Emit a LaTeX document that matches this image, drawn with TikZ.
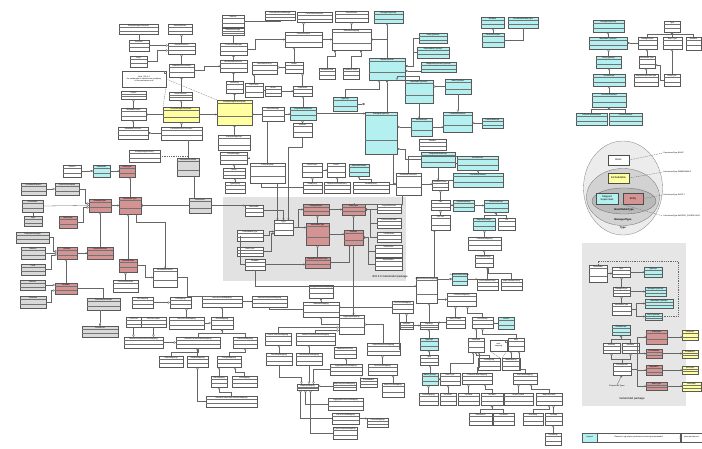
\documentclass[tikz,border=0pt]{standalone}
\usepackage{fontspec}
\setmainfont{Liberation Sans}
\usetikzlibrary{arrows.meta,calc}
\definecolor{cy}{HTML}{B4F0F0}
\definecolor{rd}{HTML}{D49494}
\definecolor{gy}{HTML}{D9D9D9}
\definecolor{yl}{HTML}{FFFFA0}
\definecolor{pn}{HTML}{E2E2E2}
\tikzset{
 clsbox/.style={draw=black!65, line width=0.3pt, inner sep=0pt, outer sep=0pt},
 clsline/.style={draw=black!55, line width=0.2pt},
 clslabel/.style={inner sep=0pt, font=\fontsize{1.9}{2.1}\selectfont},
 conn/.style={draw=black!60, line width=0.3pt},
 inh/.style={conn, -{Triangle[open,length=2.2pt,width=2.6pt]}},
 comp/.style={conn, {Diamond[length=3pt,width=2pt]}-},
 asc/.style={conn, -{Straight Barb[length=1.3pt,width=2pt]}},
 dep/.style={conn, dash pattern=on 1pt off 0.8pt},
 ebox/.style={draw=black!70, line width=0.3pt, inner sep=0pt, align=center, font=\fontsize{2.6}{2.9}\selectfont},
 elabel/.style={inner sep=0.3pt, font=\fontsize{1.9}{2.2}\selectfont},
 etext/.style={inner sep=0pt, font=\bfseries\fontsize{2.6}{2.9}\selectfont},
 panellabel/.style={inner sep=0pt, font=\fontsize{2.8}{3}\selectfont}
}
\newcommand\cls[7]{%
 \node[clsbox, fill=#6, minimum width={(#4-#2)*1pt}, minimum height={(#5-#3)*1pt}] (#1) at ({(#2+#4)/2},{(#3+#5)/2}) {};
 \draw[clsline] ([yshift=-3.4pt]#1.north west) -- ([yshift=-3.4pt]#1.north east);
 \draw[clsline] ($(#1.north west)!0.66!(#1.south west)$) -- ($(#1.north east)!0.66!(#1.south east)$);
 \node[clslabel] at ([yshift=-1.7pt]#1.north) {#7};}
\newcommand\notebox[6]{%
 \node[clsbox, fill=#6, minimum width={(#4-#2)*1pt}, minimum height={(#5-#3)*1pt}] (#1) at ({(#2+#4)/2},{(#3+#5)/2}) {};}
\begin{document}
\begin{tikzpicture}[x=1pt,y=-1pt]
\useasboundingbox (0,0) rectangle (702,448);
\fill[white] (0,0) rectangle (702,448);
% panels
\fill[pn] (223,197) rectangle (406,281);
\node[panellabel] at (390,277) {JPA 2.0 metamodel package};
\fill[pn!85] (582,243) rectangle (686,406);
\node[panellabel] at (632,399) {metamodel package};
%% ---------- top-left
\cls{a1}{119}{24}{158}{34}{white}{EntityManagerSetupImpl}
\cls{a2}{168}{24}{192}{34}{white}{SessionBroker}
\cls{a3}{129}{40}{149}{51}{white}{Accessor}
\cls{a4}{130}{56}{147}{67}{white}{Login}
\cls{a5}{168}{43}{195}{54}{white}{AbstractSession}
\cls{a6}{169}{64}{194}{77}{white}{DatabaseSessionImpl}
\notebox{nt1}{122}{71}{166}{87}{white}
\node[clslabel, align=center] at (nt1) {Note: JPA 2.0\\the metamodel is initialized on predeploy\\of the persistence unit};
\draw[clsline] ([xshift=-2pt]nt1.north east) -- ([xshift=-2pt,yshift=-2pt]nt1.north east) -- ([yshift=-2pt]nt1.north east);
\cls{a7}{121}{91}{146}{99}{white}{Project}
\cls{a8}{169}{92}{192}{100}{white}{ServerSession}
\cls{a9}{121}{108}{146}{120}{white}{MetadataProject}
\cls{a10}{163}{107}{199}{122}{yl}{EntityManagerSetupImpl}
\cls{a11}{118}{127}{148}{139}{white}{MetadataProcessor}
\cls{a12}{161}{127}{202}{140}{white}{PersistenceUnitProcessor}
\cls{y1}{217}{100}{252}{125}{yl}{EntityManagerFactoryImpl}
\cls{a13}{218}{135}{250}{150}{white}{EntityManagerImpl}
\cls{a14}{222}{15}{244}{27}{white}{Platform}
\cls{a15}{222}{28}{244}{35}{white}{DatasourceLogin}
\cls{a16}{220}{43}{247}{55}{white}{ConversionManager}
\cls{a17}{220}{60}{247}{72}{white}{IdentityMapAccessor}
\cls{a18}{226}{81}{243}{93}{white}{CacheKey}
%% ---------- top-middle
\cls{b1}{265}{11}{295}{20}{white}{DescriptorEventManager}
\cls{b2}{297}{12}{332}{22}{white}{CoreClassDescriptor}
\cls{b3}{335}{11}{368}{22}{white}{ObjectBuilder}
\cls{c1}{374}{11}{403}{23}{cy}{ManagedTypeImpl}
\cls{b4}{285}{32}{322}{47}{white}{ClassDescriptor}
\cls{b5}{332}{29}{371}{50}{white}{DatabaseMapping}
\cls{b6}{252}{62}{277}{74}{white}{InheritancePolicy}
\cls{b7}{285}{62}{303}{73}{white}{Helper}
\cls{b8}{319}{68}{335}{79}{white}{DatabaseField}
\cls{b9}{343}{68}{359}{79}{white}{DatabaseTable}
\cls{c2}{369}{58}{405}{80}{cy}{MetamodelImpl}
\cls{c3}{419}{33}{447}{43}{cy}{EntityTypeImpl}
\cls{c4}{417}{47}{449}{58}{cy}{EmbeddableTypeImpl}
\cls{c5}{421}{62}{456}{72}{cy}{MappedSuperclassTypeImpl}
\cls{c6}{405}{80}{433}{103}{cy}{IdentifiableTypeImpl}
\cls{c7}{445}{79}{471}{94}{cy}{BasicTypeImpl}
\cls{b10}{245}{83}{263}{97}{white}{CMPPolicy}
\cls{b11}{265}{86}{281}{96}{white}{Vector}
\cls{b12}{293}{86}{312}{96}{white}{Expression}
\cls{c8}{333}{97}{357}{111}{cy}{TypeImpl}
\cls{b13}{262}{107}{284}{121}{white}{QueryManager}
\cls{c9}{290}{107}{316}{120}{cy}{SingularAttributeImpl}
\cls{b14}{293}{123}{312}{137}{white}{Attribute}
\cls{c10}{365}{112}{397}{154}{cy}{ManagedTypeImpl}
\cls{c11}{411}{118}{432}{136}{cy}{AttributeImpl}
\cls{c12}{443}{112}{472}{132}{cy}{PluralAttributeImpl}
\cls{b15}{419}{139}{446}{150}{white}{Member}
\cls{c13}{482}{118}{503}{128}{cy}{ListAttributeImpl}
\cls{c14}{481}{17}{504}{28}{cy}{Bindable}
\cls{c15}{508}{17}{538}{28}{cy}{PersistentAttributeType}
\cls{c16}{482}{33}{504}{47}{cy}{PersistenceType}
%% ---------- top-right cluster
\cls{d1}{593}{20}{624}{32}{cy}{ManagedTypeImpl}
\cls{d2}{589}{37}{627}{49}{cy}{IdentifiableTypeImpl}
\cls{d3}{596}{56}{621}{68}{cy}{EntityTypeImpl}
\cls{d4}{593}{74}{625}{86}{cy}{AttributeImpl}
\cls{d5}{592}{93}{626}{107}{cy}{PluralAttributeImpl}
\cls{d6}{576}{113}{607}{125}{cy}{CollectionAttributeImpl}
\cls{d7}{609}{113}{642}{125}{cy}{SetAttributeImpl}
\cls{e1}{664}{21}{680}{32}{white}{Type}
\cls{e2}{638}{37}{657}{49}{white}{ManagedType}
\cls{e3}{663}{37}{682}{49}{white}{BasicType}
\cls{e4}{686}{37}{701}{50}{white}{Bindable}
\cls{e5}{639}{56}{655}{68}{white}{IdentifiableType}
\cls{e6}{634}{74}{658}{86}{white}{MappedSuperclassType}
\cls{e7}{664}{74}{680}{86}{white}{EntityType}
%% ---------- left middle
\cls{f1}{63}{165}{81}{177}{white}{Session}
\cls{f2}{93}{165}{110}{177}{cy}{Metamodel}
\cls{r1}{119}{165}{135}{177}{rd}{EntityType}
\cls{f3}{129}{150}{160}{162}{white}{EntityManagerFactory}
\cls{g1}{177}{158}{199}{176}{gy}{PersistenceUnitInfo}
\cls{f4}{220}{152}{247}{164}{white}{EntityManager}
\cls{f5}{223}{168}{245}{178}{white}{Query}
\cls{f6}{225}{182}{245}{193}{white}{TypedQuery}
\cls{g2}{21}{183}{46}{195}{gy}{AnnotatedElement}
\cls{g3}{55}{183}{79}{195}{gy}{GenericDeclaration}
\cls{r2}{89}{199}{111}{212}{rd}{ManagedType}
\cls{r3}{119}{197}{141}{214}{rd}{IdentifiableType}
\cls{g4}{189}{198}{211}{213}{gy}{Persistence}
\cls{g5}{22}{200}{43}{212}{gy}{Serializable}
\cls{g6}{24}{216}{42}{226}{gy}{Type}
\cls{r4}{59}{216}{77}{228}{rd}{BasicType}
\cls{g7}{16}{232}{49}{243}{gy}{ParameterizedType}
\cls{g8}{21}{247}{45}{259}{gy}{Member}
\cls{r5}{57}{247}{77}{259}{rd}{Attribute}
\cls{r6}{87}{247}{113}{259}{rd}{SingularAttribute}
\cls{g9}{21}{264}{45}{275}{gy}{Field}
\cls{r7}{119}{259}{137}{272}{rd}{PluralAttribute}
\cls{f7}{153}{268}{177}{287}{white}{MetadataAccessor}
\cls{f8}{113}{280}{138}{292}{white}{CollectionAttribute}
\cls{g10}{20}{280}{45}{290}{gy}{Method}
\cls{r8}{55}{283}{77}{294}{rd}{Bindable}
\cls{g11}{20}{296}{46}{308}{gy}{Collection}
%% ---------- lower-left
\cls{g12}{87}{298}{120}{310}{gy}{PersistenceProvider}
\cls{g13}{82}{326}{118}{337}{gy}{ProviderUtil}
\cls{h1}{132}{297}{153}{308}{white}{XMLMapping}
\cls{h2}{170}{297}{191}{308}{white}{OXMapping}
\cls{h3}{202}{296}{242}{307}{white}{AbstractDirectMapping}
\cls{h4}{252}{296}{287}{307}{white}{AbstractCompositeMapping}
\cls{h5}{126}{317}{141}{327}{white}{XMLField}
\cls{h6}{141}{317}{166}{327}{white}{XMLDescriptor}
\cls{h7}{124}{337}{163}{348}{white}{AbstractCompositeDirectMapping}
\cls{h8}{169}{317}{204}{329}{white}{DirectToFieldMapping}
\cls{h9}{211}{317}{233}{329}{white}{DirectMapping}
\cls{h10}{176}{337}{220}{348}{white}{AbstractTransformationMapping}
\cls{h11}{233}{337}{257}{348}{white}{TransformMapping}
\cls{h12}{159}{356}{183}{367}{white}{ObjectMapping}
\cls{h13}{187}{356}{208}{367}{white}{VariableMapping}
\cls{h14}{217}{356}{241}{367}{white}{ForeignMapping}
\cls{h15}{211}{376}{227}{387}{white}{XMLMapping}
\cls{h16}{232}{376}{257}{387}{white}{EISMapping}
\cls{h17}{206}{396}{257}{407}{white}{AbstractCompositeCollectionMapping}
%% ---------- JPA panel
\cls{p1}{245}{205}{263}{216}{white}{Metamodel}
\cls{p2}{274}{220}{293}{235}{white}{Type}
\cls{pr1}{303}{204}{329}{215}{rd}{ManagedType}
\cls{pr2}{342}{204}{365}{215}{rd}{EntityType}
\cls{p3}{377}{204}{401}{213}{white}{SingularAttribute}
\cls{p4}{377}{218}{401}{228}{white}{CollectionAttribute}
\cls{p5}{377}{232}{401}{242}{white}{ListAttribute}
\cls{pr3}{306}{223}{329}{245}{rd}{IdentifiableType}
\cls{pr4}{344}{230}{363}{245}{rd}{Attribute}
\cls{p6}{237}{230}{263}{241}{white}{EmbeddableType}
\cls{p7}{237}{247}{263}{256}{white}{BasicType}
\cls{p8}{245}{259}{265}{270}{white}{Bindable}
\cls{pr5}{305}{257}{330}{268}{rd}{MappedSuperclassType}
\cls{p9}{375}{245}{402}{257}{white}{SetAttribute}
\cls{p10}{375}{258}{402}{270}{white}{MapAttribute}
%% ---------- above panel
\cls{k1}{302}{163}{322}{177}{white}{FetchGroup}
\cls{k2}{327}{163}{345}{177}{white}{Cursor}
\cls{kc1}{349}{164}{369}{176}{cy}{MapAttributeImpl}
\cls{k3}{303}{182}{322}{193}{white}{ReadQuery}
\cls{k4}{324}{182}{350}{193}{white}{ObjectLevelReadQuery}
\cls{k5}{353}{182}{389}{193}{white}{ReadAllQuery}
\cls{k6}{396}{173}{421}{195}{white}{RelationalDescriptor}
\cls{k7}{432}{180}{448}{190}{white}{DatabaseQuery}
\cls{k8}{431}{200}{450}{210}{white}{Call}
\cls{k9}{431}{215}{450}{230}{white}{SQLCall}
\cls{kc2}{453}{200}{474}{211}{cy}{SetAttributeImpl}
\cls{kc3}{421}{152}{455}{167}{cy}{SingularAttributeImpl}
\cls{k13}{250}{163}{285}{183}{white}{EJBQueryImpl}
\cls{k14}{309}{285}{333}{298}{white}{ForeignReferenceMapping}
\cls{k15}{416}{277}{437}{303}{white}{ObjectReferenceMapping}
\cls{kc4}{452}{273}{467}{285}{cy}{CollectionAttributeImpl}
%% ---------- right middle
\cls{m1}{457}{156}{498}{170}{cy}{AttributeImpl}
\cls{m2}{453}{173}{503}{187}{cy}{PluralAttributeImpl}
\cls{mc3}{484}{200}{508}{212}{cy}{ListAttributeImpl}
\cls{mc4}{473}{218}{495}{230}{cy}{MapAttributeImpl}
\cls{m5}{498}{218}{515}{230}{white}{List}
\cls{m6}{468}{237}{501}{250}{white}{CollectionMapping}
\cls{m7}{475}{255}{493}{267}{white}{ContainerPolicy}
\cls{m8}{477}{279}{498}{290}{white}{ListContainerPolicy}
\cls{m9}{501}{279}{522}{290}{white}{MapContainerPolicy}
%% ---------- lower middle
\cls{n1b}{303}{302}{339}{317}{white}{DatabaseMapping}
\cls{n2}{392}{301}{413}{313}{white}{OneToOneMapping}
\cls{n4}{447}{293}{476}{306}{white}{CollectionMapping}
\cls{n5}{339}{315}{364}{334}{white}{AggregateMapping}
\cls{n6}{265}{333}{291}{345}{white}{DirectCollectionMapping}
\cls{n7}{296}{333}{335}{345}{white}{AbstractTransformationMapping}
\cls{n8}{367}{343}{400}{355}{white}{ObjectReferenceMapping}
\cls{n9}{334}{347}{356}{358}{white}{VariableOneToOne}
\cls{n10}{266}{353}{292}{365}{white}{DirectMapMapping}
\cls{n11}{296}{353}{322}{365}{white}{TransformationMapping}
\cls{n12}{330}{364}{362}{375}{white}{AggregateObjectMapping}
\cls{n13}{368}{364}{397}{375}{white}{OneToOneMapping}
\cls{n14}{360}{378}{377}{387}{white}{EmbeddedId}
\cls{n15}{297}{384}{318}{390}{white}{MapKeyMapping}
\cls{n16}{333}{382}{356}{390}{white}{MapComponentMapping}
\cls{n17}{382}{383}{404}{397}{white}{ManyToOneMapping}
\cls{n18}{328}{398}{363}{410}{white}{AggregateCollectionMapping}
\cls{n19}{332}{413}{359}{424}{white}{DirectToFieldMapping}
\cls{n20}{367}{418}{388}{427}{white}{ConvertMapping}
\cls{n21}{333}{427}{357}{439}{white}{TypeConversionMapping}
\cls{o1}{400}{322}{413}{329}{white}{Attribute}
\cls{o2}{420}{322}{438}{329}{white}{Mapping}
\cls{oc3}{420}{338}{438}{350}{cy}{TypeImpl}
\cls{o4}{420}{355}{438}{365}{white}{Type}
\cls{oc5}{422}{373}{438}{385}{cy}{BasicTypeImpl}
\cls{o6}{440}{373}{460}{385}{white}{BasicType}
\cls{o7}{419}{393}{438}{405}{white}{DirectMapping}
\cls{o8}{440}{393}{456}{405}{white}{Converter}
%% ---------- right lower
\cls{q1}{446}{317}{465}{328}{white}{ManyToMany}
\cls{q2}{472}{317}{493}{328}{white}{OneToMany}
\cls{qc3}{498}{317}{514}{329}{cy}{ListAttr}
\cls{q4}{468}{338}{484}{352}{white}{Collection}
\notebox{nt2}{490}{340}{507}{351}{white}
\node[clslabel, align=center] at (nt2) {note:\\mapping};
\draw[clsline] ([xshift=-2pt]nt2.north east) -- ([xshift=-2pt,yshift=-2pt]nt2.north east) -- ([yshift=-2pt]nt2.north east);
\cls{q6}{508}{338}{524}{351}{white}{Map}
\cls{q7}{478}{358}{500}{370}{white}{ListMapping}
\cls{q8}{502}{358}{520}{370}{white}{MapMapping}
\cls{q10}{462}{373}{492}{384}{white}{CollectionTableMapping}
\cls{q11}{513}{373}{537}{384}{white}{MapTableMapping}
\cls{q13}{458}{393}{479}{405}{white}{ListTable}
\cls{q14}{481}{393}{503}{405}{white}{SetTable}
\cls{q15}{504}{393}{533}{405}{white}{MapKeyTable}
\cls{q16}{536}{393}{562}{405}{white}{MapValueTable}
\cls{q17}{469}{413}{492}{425}{white}{OrderedList}
\cls{q18}{493}{413}{514}{425}{white}{SortedSet}
\cls{q19}{523}{413}{543}{425}{white}{HashMap}
\cls{q20}{545}{413}{562}{425}{white}{TreeMap}
\cls{q21}{545}{433}{561}{445}{white}{SortedMap}
%% ---------- metamodel package panel
\cls{s1}{589}{265}{607}{282}{white}{Metamodel}
\cls{s2}{612}{267}{630}{277}{white}{Type}
\cls{sc1}{644}{267}{662}{277}{cy}{TypeImpl}
\cls{s3}{613}{287}{630}{296}{white}{ManagedType}
\cls{sc2}{645}{287}{666}{296}{cy}{ManagedTypeImpl}
\cls{s4}{612}{303}{631}{315}{white}{IdentifiableType}
\cls{sc3}{645}{299}{673}{308}{cy}{IdentifiableTypeImpl}
\cls{sc4}{645}{313}{662}{320}{cy}{BasicTypeImpl}
\cls{sc5}{612}{325}{630}{335}{cy}{AttributeImpl}
\cls{s5}{603}{343}{620}{353}{white}{Attribute}
\cls{s6}{622}{343}{639}{353}{white}{Bindable}
\cls{sr1}{646}{330}{667}{344}{rd}{EntityType}
\cls{sr2}{646}{349}{662}{358}{rd}{Embeddable}
\cls{sr3}{646}{365}{662}{375}{rd}{MappedSC}
\cls{sr4}{646}{382}{667}{390}{rd}{BasicType}
\cls{s7}{613}{363}{631}{375}{white}{PersistentAttr}
\cls{sy1}{682}{330}{698}{340}{yl}{EntityImpl}
\cls{sy2}{682}{350}{698}{358}{yl}{EmbedImpl}
\cls{sy3}{682}{366}{698}{374}{yl}{MSCImpl}
\cls{sy4}{682}{382}{701}{391}{yl}{BasicImpl}
\node[clslabel] (stxt) at (617,386) {EclipseLink Types};
%% ---------- legend
\node[clsbox, fill=cy, minimum width=15pt, minimum height=9pt] (lg1) at (589.5,437.5) {};
\node[clslabel] at (lg1) {Legend};
\node[clsbox, fill=white, minimum width=83pt, minimum height=9pt] (lg2) at (638.5,437.5) {};
\node[clslabel] at (lg2) {Classes in org.eclipse.persistence.internal.jpa.metamodel};
\node[clsbox, fill=white, minimum width=21pt, minimum height=9pt] (lg3) at (691.5,437.5) {};
\node[clslabel] at (lg3) {javax.persistence};
%% ---------- persistence type ellipse
\draw[draw=black!50, fill=gray!15, line width=0.3pt] (623,188) ellipse [x radius=39.5pt, y radius=47pt];
\draw[draw=black!55, fill=gray!35, line width=0.3pt] (623,197) ellipse [x radius=36.5pt, y radius=28.5pt];
\draw[draw=black!60, fill=gray!55, line width=0.3pt] (624,201) ellipse [x radius=32pt, y radius=13pt];
\node[ebox, fill=white, minimum width=21pt, minimum height=10pt] (eb) at (618.5,160) {Basic};
\node[ebox, fill=yl, minimum width=21pt, minimum height=10pt] (ee) at (618.5,178) {Embeddable};
\node[ebox, fill=cy, minimum width=22pt, minimum height=11pt] (em) at (607,198.5) {Mapped\\Superclass};
\node[ebox, fill=rd, minimum width=20pt, minimum height=11pt] (en) at (633,198.5) {Entity};
\node[etext] at (624,209.5) {IdentifiableType};
\node[etext] at (623,219.5) {ManagedType};
\node[etext] at (623,228) {Type};
\node[elabel, anchor=west] (lb) at (663,153) {PersistenceType.BASIC};
\node[elabel, anchor=west] (le) at (663,172) {PersistenceType.EMBEDDABLE};
\node[elabel, anchor=west] (ln) at (663,195) {PersistenceType.ENTITY};
\node[elabel, anchor=west] (lm) at (663,216) {PersistenceType.MAPPED\_SUPERCLASS};
\draw[dep] (eb.east) -- (lb.west);
\draw[dep] (ee.east) -- (le.west);
\draw[dep] (en.east) -- (ln.west);
\draw[dep] ([xshift=3pt]em.south east) -- (lm.west);
%% ================= connectors
% top-left
\draw[conn] (a3.north) -- (a3.north |- a1.south);
\draw[inh] (a3.east) -- (a3.east -| a5.west);
\draw[inh] (a4.east) -- ++(10,0) |- ([yshift=-2pt]a5.west);
\draw[inh] (a6.north) -- (a6.north |- a5.south);
\draw[inh] (a5.north) -- (a5.north |- a2.south);
\draw[comp] (a6.south) -- (a6.south |- a8.north);
\draw[inh] (a9.north) -- (a9.north |- a7.south);
\draw[inh] (a11.north) -- (a11.north |- a9.south);
\draw[inh] (a12.north) -- (a12.north |- a10.south);
\draw[comp] (a11.east) -- (a11.east -| a12.west);
\draw[asc] (a10.west) -- (a10.west -| a9.east);
\draw[inh] (a10.north) -- (a10.north |- a8.south);
\draw[dep] (nt1.south east) -- (a10.north west);
\draw[dep] (nt1.east) -- (y1.north west);
\draw[asc] (a6.east) -- ++(10,0) |- (a17.west);
\draw[asc] (a10.east) -- (a10.east -| y1.west);
\draw[comp] (a18.south) -- (a18.south |- y1.north);
\draw[comp] (a17.south) -- (a17.south |- a18.north);
\draw[comp] (a16.south) -- (a16.south |- a17.north);
\draw[conn] (a15.south) -- (a15.south |- a16.north);
\draw[comp] (y1.south) -- (y1.south |- a13.north);
\draw[inh] (f5.north) -- (f5.north |- f4.south);
\draw[inh] (f6.north) -- (f6.north |- f5.south);
\draw[conn] (a14.east) -| (b1.south);
\draw[asc] (a16.east) -- ++(8,0) |- (b4.west);
% top-middle
\draw[inh] (b4.north) -- (b4.north |- b2.south);
\draw[inh] (b5.north) -- (b5.north |- b3.south);
\draw[asc] (b4.east) -- (b4.east -| b5.west);
\draw[inh] (b7.west) -- (b7.west -| b6.east);
\draw[inh] (b7.north) -- (b7.north |- b4.south);
\draw[comp] ([xshift=3pt]b5.south west) -- ++(0,6) -| (b8.north);
\draw[comp] ([xshift=-10pt]b5.south east) -- ++(0,6) -| (b9.north);
\draw[conn] (b10.east) -- (b10.east -| b11.west);
\draw[asc] (b11.east) -- (b11.east -| b12.west);
\draw[inh] (b12.north) -- (b12.north |- b7.south);
\draw[inh] (b10.north) -- (b10.north |- b6.south);
\draw[inh] (c9.north) -- (c9.north |- b12.south);
\draw[inh] (b14.north) -- (b14.north |- c9.south);
\draw[asc] (b13.east) -- (b13.east -| c9.west);
\draw[asc] (b13.west) -- (b13.west -| y1.east);
\draw[asc] (c9.east) -- (c9.east -| c10.west);
\draw[comp] (c10.west |- c8.east) -- (c8.east);
\draw[inh] (c8.north) -- ++(0,-8) -| ([xshift=-8pt]c2.south);
\draw[comp] (c2.south) -- (c2.south |- c10.north);
\draw[asc] (c2.north) |- (b5.east);
\draw[inh] (c2.north) -- (c2.north |- c1.south);
\draw[comp] ([yshift=3pt]c2.east) -- ++(8,0) |- (c3.west);
\draw[comp] ([yshift=3pt]c2.east) -- ++(8,0) |- (c4.west);
\draw[comp] ([yshift=-2pt]c2.east) -- ([yshift=-2pt]c2.east -| c5.west);
\draw[inh] (c6.north) -- ++(0,-4) -| ([xshift=10pt]c2.south);
\draw[inh] (c7.west) -- (c7.west -| c6.east);
\draw[asc] (c6.south) -- (c6.south |- c11.north);
\draw[comp] ([yshift=6pt]c10.east) -- ([yshift=6pt]c10.east -| c11.west);
\draw[asc] (c11.east) -- (c11.east -| c12.west);
\draw[inh] (c13.west) -- (c13.west -| c12.east);
\draw[inh] (c7.south) -- (c7.south |- c12.north);
\draw[inh] (c16.north) -- (c16.north |- c14.south);
\draw[conn] (c15.south) |- (c16.east);
\draw[comp] ([yshift=-16pt]c10.east) -- ++(8,0) |- (kc3.west);
\draw[asc] ([xshift=12pt]c10.south) |- (k6.west);
% top-right cluster
\draw[inh] (d2.north) -- (d2.north |- d1.south);
\draw[inh] (d3.north) -- (d3.north |- d2.south);
\draw[inh] (d4.north) -- (d4.north |- d3.south);
\draw[inh] (d5.north) -- (d5.north |- d4.south);
\draw[inh] (d6.north) -- ++(0,-4) -| (d5.south);
\draw[inh] (d7.north) -- ++(0,-4) -| (d5.south);
\draw[comp] (d2.east) -- (d2.east -| e2.west);
\draw[inh] (e2.north) -- ++(0,-3) -| (e1.south);
\draw[inh] (e3.north) -- ++(0,-3) -| (e1.south);
\draw[inh] (e4.north) -- ++(0,-3) -| (e1.south);
\draw[inh] (e5.north) -- (e5.north |- e2.south);
\draw[inh] (e6.north) -- (e6.north |- e5.south);
\draw[inh] (e7.north) -- (e7.north |- e3.south);
\draw[inh] (e7.west) -- ++(-4,0) |- ([yshift=-3pt]e5.east);
% left middle
\draw[comp] (f2.west) -- (f2.west -| f1.east);
\draw[asc] (f2.east) -- (f2.east -| r1.west);
\draw[inh] (r3.north) -- (r3.north |- r1.south);
\draw[inh] (g2.east) -- (g2.east -| g3.west);
\draw[inh] (g3.east) -- ++(6,0) |- ([yshift=2pt]r2.west);
\draw[inh] (g5.east) -- ($(r2.west)+(-4,0)$) -- (r2.west);
\draw[inh] (r4.east) -- ++(6,0) |- ([yshift=-2pt]r2.west);
\draw[conn] (g6.north) -- (g6.north |- g5.south);
\draw[asc] (r2.east) -- (r2.east -| r3.west);
\draw[comp] (r3.east) -- (r3.east -| g4.west);
\draw[conn] ([xshift=6pt]g1.south) -- ([xshift=6pt]g1.south |- g4.north);
\draw[dep] (f3.east) -| (g1.north);
\draw[conn] (g1.north) -- (g1.north |- a12.south);
\draw[inh] (g7.east) -- ++(4,0) |- ([yshift=2pt]r5.west);
\draw[inh] (g8.east) -- (g8.east -| r5.west);
\draw[inh] (g9.east) -- ++(6,0) |- ([yshift=-2pt]r5.west);
\draw[asc] (r5.east) -- (r5.east -| r6.west);
\draw[inh] (r6.north) -- (r6.north |- r2.south);
\draw[inh] (r7.north) -- (r7.north |- r3.south);
\draw[asc] (r7.east) -- ++(8,0) |- (f7.west);
\draw[inh] (f8.north) -- (f8.north |- r7.south);
\draw[inh] (g10.east) -- (g10.east -| r8.west);
\draw[inh] (g11.east) -- ++(5,0) |- ([yshift=-2pt]r8.west);
\draw[inh] (r8.north) -- (r8.north |- r5.south);
\draw[asc] ([xshift=6pt]r3.south) -- ++(0,8) -| (f7.north);
\draw[asc] (g4.east) -- (g4.east -| p1.west);
\draw[conn] (f7.east) -- ++(10,0) |- (h3.north);
% lower-left
\draw[comp] (g13.north) -- (g13.north |- g12.south);
\draw[conn] (g12.north) |- (r8.east);
\draw[inh] (h5.south) -- (h5.south |- h7.north);
\draw[inh] (h6.south) -- (h6.south |- h7.north);
\draw[inh] (h8.north) -- (h8.north |- h2.south);
\draw[inh] (h9.north) -- (h9.north |- h3.south);
\draw[inh] (h8.east) -- (h8.east -| h9.west);
\draw[inh] (h7.east) -- (h7.east -| h10.west);
\draw[inh] (h10.north) -- ++(0,-4) -| (h9.south);
\draw[inh] (h11.north) -- ++(0,-4) -| (h9.south);
\draw[inh] (h12.north) -- ++(0,-4) -| (h10.south);
\draw[inh] (h13.north) -- (h13.north |- h10.south);
\draw[inh] (h14.north) -- ++(0,-4) -| (h11.south);
\draw[inh] (h15.north) -- (h15.north |- h14.south);
\draw[inh] (h16.north) -- ++(0,-4) -| ([xshift=6pt]h14.south);
\draw[inh] (h17.west) -| (h13.south);
\draw[inh] (h17.north) -- ++(0,-4) -| (h15.south);
\draw[conn] (h3.east) -- (h3.east -| h4.west);
\draw[inh] (h1.east) -- (h1.east -| h2.west);
% JPA panel
\draw[asc] (p1.east) -| (p2.north);
\draw[asc] (p2.east) -- ++(5,0) |- (pr1.west);
\draw[asc] (p2.east) -- (p2.east -| pr3.west);
\draw[asc] (p6.east) -- ++(6,0) |- ([yshift=-4pt]p2.west);
\draw[asc] (p7.east) -- ++(8,0) |- ([yshift=-6pt]p2.west);
\draw[asc] (pr1.east) -- (pr1.east -| pr2.west);
\draw[comp] (pr2.east) -- (pr2.east -| p3.west);
\draw[comp] (pr2.east) -- ++(5,0) |- (p4.west);
\draw[comp] (pr2.east) -- ++(5,0) |- (p5.west);
\draw[inh] (pr3.north) -- (pr3.north |- pr1.south);
\draw[inh] (pr4.north) -- (pr4.north |- pr2.south);
\draw[asc] (pr3.east) -- (pr3.east -| pr4.west);
\draw[inh] (pr5.north) -- (pr5.north |- pr3.south);
\draw[asc] (p8.east) -- (p8.east -| pr5.west);
\draw[comp] (pr4.east) -- ++(5,0) |- (p9.west);
\draw[comp] (pr4.east) -- ++(5,0) |- (p10.west);
\draw[asc] (pr5.east) -| ([xshift=-4pt]pr4.south);
\draw[asc] (pr4.south) -- (pr4.south |- n5.north);
\draw[asc] (p8.south) |- ([yshift=4pt]k15.west);
\draw[conn] ([xshift=3pt]p6.west) |- (p8.west);
% above panel
\draw[inh] (k3.north) -- (k3.north |- k1.south);
\draw[inh] (k4.north) -- (k4.north |- k2.south);
\draw[inh] (k5.north) -- ++(0,-3) -| (kc1.south);
\draw[asc] (k1.east) -- (k1.east -| k2.west);
\draw[asc] (k6.east) -- (k6.east -| k7.west);
\draw[comp] (k6.west) -- (k6.west -| k5.east);
\draw[asc] (k8.east) -- (k8.east -| kc2.west);
\draw[inh] (k9.north) -- (k9.north |- k8.south);
\draw[inh] (k8.north) -- (k8.north |- k7.south);
\draw[asc] (kc3.south) -- (kc3.south |- k7.north);
\draw[asc] ([xshift=10pt]k13.south) -- ([xshift=10pt]k13.south |- p2.north);
\draw[asc] (b14.south) -- ++(0,10) -| ([xshift=5pt]p2.north);
\draw[conn] (k13.north) -- (k13.north |- b13.south);
\draw[asc] (f4.east) -- (f4.east -| k13.west);
\draw[conn] (k3.west) -| ([xshift=-6pt]k13.south);
\draw[asc] ([xshift=-6pt]k6.south) -- ([xshift=-6pt]k6.south |- pr2.north) -- (pr2.north);
% right middle
\draw[inh] (m2.north) -- (m2.north |- m1.south);
\draw[asc] (kc2.east) -- (kc2.east -| mc3.west);
\draw[inh] (mc4.north) -- ++(0,-3) -| (mc3.south);
\draw[inh] (m5.north) -- ++(0,-3) -| (mc3.south);
\draw[inh] (m6.north) -- (m6.north |- mc4.south);
\draw[inh] (m7.north) -- (m7.north |- m6.south);
\draw[inh] (m8.north) -- (m8.north |- m7.south);
\draw[inh] (m9.north) -- ++(0,-6) -| ([xshift=4pt]m7.south);
\draw[asc] (kc4.east) -- (kc4.east -| m8.west);
\draw[comp] (kc4.west) -- (kc4.west -| k15.east);
\draw[asc] ([xshift=8pt]k15.north) -- ([xshift=8pt]k15.north |- k9.south);
\draw[conn] (m1.west) -| (kc3.east);
\draw[asc] (m2.west) -| ([xshift=4pt]k7.north);
\draw[conn] (k6.north) |- (m1.north west);
% lower middle
\draw[inh] (n5.west) -| (n1b.south);
\draw[comp] (k14.south) -- (k14.south |- n1b.north);
\draw[inh] (n6.north) |- ([yshift=-3pt]n5.west);
\draw[inh] (n7.north) |- ([yshift=-6pt]n5.west);
\draw[inh] (n8.north) |- (n5.east);
\draw[inh] (n10.north) -- (n10.north |- n6.south);
\draw[inh] (n11.north) -- (n11.north |- n7.south);
\draw[inh] (n10.south) -- ++(0,12) -| ([xshift=-6pt]n15.north);
\draw[inh] (n11.south) -- (n11.south |- n15.north);
\draw[inh] (n12.west) -| ([xshift=6pt]n15.north);
\draw[inh] (n12.north) -- (n12.north |- n9.south);
\draw[inh] (n16.west) -- (n16.west -| n15.east);
\draw[inh] (n13.north) -- (n13.north |- n8.south);
\draw[dep] (n14.north west) -- (n12.south east);
\draw[inh] (n17.north) -- (n17.north |- n13.south);
\draw[inh] (n18.west) -| ([xshift=-2pt]n15.south);
\draw[inh] (n19.west) -| ([xshift=-7pt]n15.south);
\draw[inh] (n21.west) -| ([xshift=3pt]n15.south);
\draw[asc] (n19.east) -- (n19.east -| n20.west);
\draw[conn] (n1b.west) -| (h4.south);
\draw[asc] (o1.east) -- (o1.east -| o2.west);
\draw[inh] (o1.north) -- (o1.north |- n2.south);
\draw[inh] (o2.north) -- (o2.north |- k15.south);
\draw[comp] (n4.west) -- (n4.west -| k15.east);
\draw[asc] (n2.west) -- (n2.west -| n1b.east);
\draw[inh] (oc3.north) -- (oc3.north |- o2.south);
\draw[inh] (o4.north) -- (o4.north |- oc3.south);
\draw[inh] (oc5.north) -- (oc5.north |- o4.south);
\draw[asc] (oc5.east) -- (oc5.east -| o6.west);
\draw[inh] (o7.north) -- (o7.north |- oc5.south);
\draw[inh] (o8.north) -- (o8.north |- o6.south);
\draw[conn] (n8.east) -| ([xshift=-3pt]n2.south);
% right lower
\draw[inh] (q1.north) -- (q1.north |- n4.south);
\draw[inh] (q2.north) -- ++(0,-4) -| ([xshift=6pt]n4.south);
\draw[asc] (qc3.west) -- (qc3.west -| q2.east);
\draw[inh] (q4.north) -- (q4.north |- q2.south);
\draw[inh] (q6.north) -- ++(0,-4) -| (q2.south);
\draw[dep] (nt2.south west) -- (q7.north east);
\draw[dep] (nt2.south east) -- (q8.north west);
\draw[inh] (q7.north) -- ++(0,-3) -| (q4.south);
\draw[inh] (q8.north) -- (q8.north |- q6.south);
\draw[inh] (o6.north) -- ++(0,-10) -| ([xshift=-3pt]q4.south);
\draw[inh] (q10.north) -- ++(0,-6) -| ([xshift=3pt]q4.south);
\draw[inh] (q11.north) -- ++(0,-4) -| ([xshift=3pt]q6.south);
\draw[inh] (q13.north) -- (q13.north |- q10.south);
\draw[inh] (q14.north) -- ++(0,-4) -| ([xshift=8pt]q10.south);
\draw[inh] (q15.north) -- (q15.north |- q11.south);
\draw[inh] (q16.north) -- ++(0,-4) -| ([xshift=6pt]q11.south);
\draw[inh] (q17.north) -- ++(0,-4) -| (q14.south);
\draw[inh] (q18.north) -- ++(0,-4) -| (q14.south);
\draw[inh] (q19.north) -- ++(0,-4) -| (q16.south);
\draw[inh] (q20.north) -- (q20.north |- q16.south);
\draw[inh] (q21.north) -- (q21.north |- q20.south);
\draw[asc] (q1.west) -- (q1.west -| o2.east);
% metamodel package
\draw[asc] (s1.east) -- (s1.east -| s2.west);
\draw[asc] (s2.east) -- (s2.east -| sc1.west);
\draw[inh] (s3.north) -- (s3.north |- s2.south);
\draw[asc] (s3.east) -- (s3.east -| sc2.west);
\draw[inh] (s4.north) -- (s4.north |- s3.south);
\draw[asc] (s4.east) -- ++(5,0) |- (sc3.west);
\draw[asc] (s4.east) -- ++(5,0) |- (sc4.west);
\draw[inh] (s5.north) -- ++(0,-4) -| (sc5.south);
\draw[inh] (s6.north) -- ++(0,-4) -| (sc5.south);
\draw[inh] (s7.north) -- ++(0,-4) -| (s5.south);
\draw[inh] (s7.north) -- ++(0,-4) -| (s6.south);
\draw[asc] (s7.east) -- ++(6,0) |- (sr1.west);
\draw[asc] (s7.east) -- ++(6,0) |- (sr2.west);
\draw[asc] (s7.east) -- ++(6,0) |- (sr3.west);
\draw[asc] (s7.east) -- ++(6,0) |- (sr4.west);
\draw[asc] (sr1.east) -- (sr1.east -| sy1.west);
\draw[asc] (sr2.east) -- (sr2.east -| sy2.west);
\draw[asc] (sr3.east) -- (sr3.east -| sy3.west);
\draw[asc] (sr4.east) -- (sr4.east -| sy4.west);
\draw[comp] (s7.south) -- (stxt.north);
\draw[dep] (s1.north) |- ([xshift=16pt,yshift=6pt]sc1.north east) |- (sc4.east);
\draw[asc] (lg2.east) -- (lg3.west);
\end{tikzpicture}
\end{document}
